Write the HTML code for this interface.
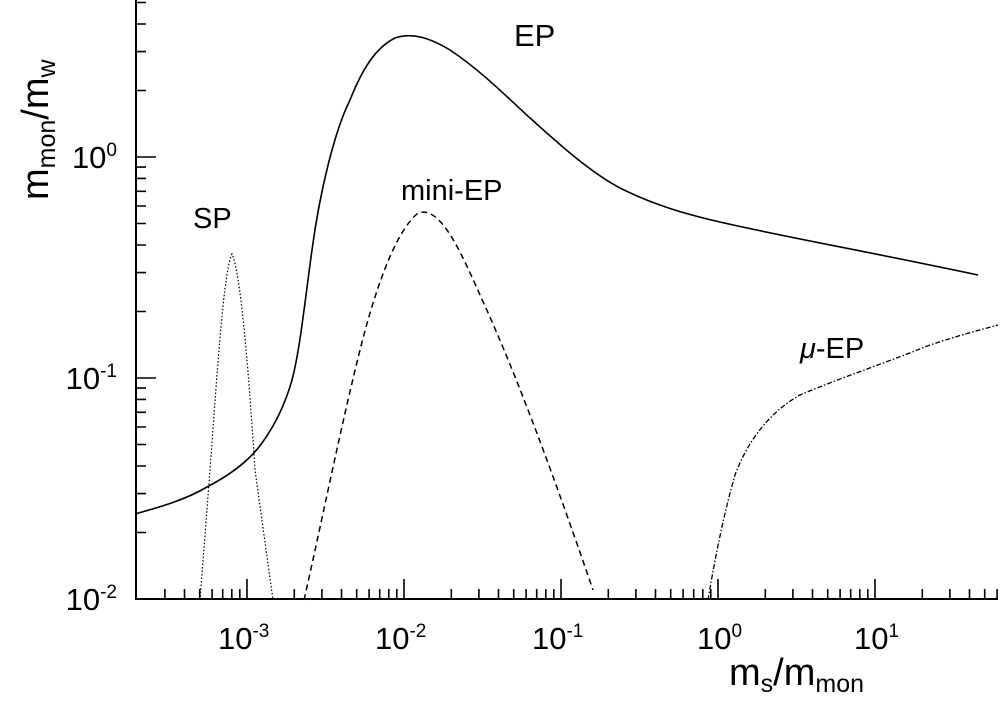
<!DOCTYPE html>
<html><head><meta charset="utf-8"><style>
html,body{margin:0;padding:0;background:#fff;}
svg{display:block;font-family:"Liberation Sans",Arial,sans-serif;}
</style></head><body>
<svg width="1000" height="704" viewBox="0 0 1000 704" xmlns="http://www.w3.org/2000/svg">
<g stroke="#000" stroke-width="2" fill="none">
<line x1="136" y1="0" x2="136" y2="600"/>
<line x1="135" y1="599" x2="998" y2="599"/>
</g>
<g stroke="#000" stroke-width="1.6" fill="none">
<path d="M247,599v-20M404,599v-20M561,599v-20M718,599v-20M875,599v-20"/>
<path d="M164.9,599v-10M184.5,599v-10M199.7,599v-10M212.1,599v-10M222.7,599v-10M231.8,599v-10M239.8,599v-10
M294.3,599v-10M321.9,599v-10M341.5,599v-10M356.7,599v-10M369.1,599v-10M379.7,599v-10M388.8,599v-10M396.8,599v-10
M451.3,599v-10M478.9,599v-10M498.5,599v-10M513.7,599v-10M526.1,599v-10M536.7,599v-10M545.8,599v-10M553.8,599v-10
M608.3,599v-10M635.9,599v-10M655.5,599v-10M670.7,599v-10M683.1,599v-10M693.7,599v-10M702.8,599v-10M710.8,599v-10
M765.3,599v-10M792.9,599v-10M812.5,599v-10M827.7,599v-10M840.1,599v-10M850.7,599v-10M859.8,599v-10M867.8,599v-10
M922.3,599v-10M949.9,599v-10M969.5,599v-10M984.7,599v-10M997.1,599v-10"/>
<path d="M136,378h20M136,157h20"/>
<path d="M136,532.5h10M136,493.6h10M136,466h10M136,444.5h10M136,427h10M136,412.3h10M136,399.4h10M136,388.1h10
M136,311.5h10M136,272.6h10M136,245h10M136,223.5h10M136,206h10M136,191.3h10M136,178.4h10M136,167.1h10
M136,90.5h10M136,51.6h10M136,24h10M136,2.5h10"/>
</g>
<g fill="none" stroke="#000">
<path stroke-width="1.6" d="M135,514 C160,507 185,500 207,487 C230,475 250,460 262,443 C275,425 285,405 292,380 C300,350 305,300 312,250 C320,190 335,130 350,100 C362,70 375,48 395,38 C412,32 430,38 450,50 C480,70 505,95 530,118 C560,145 590,172 620,188 C650,203 680,213 720,222 C780,236 860,250 978,275"/>
<path stroke-width="1.2" stroke-dasharray="1.5,2" d="M200,600 L210,470 C218,360 224,270 232,254 C240,270 248,360 255,470 L273,600"/>
<path stroke-width="1.5" stroke-dasharray="6,4" d="M304,600 C320,530 340,430 360,350 C375,290 395,232 418,213 C440,205 460,250 480,295 C510,360 545,450 593,590"/>
<path stroke-width="1.3" stroke-dasharray="5,2,1.5,2" d="M708,600 C713,570 722,520 735,475 C748,440 770,412 800,395 C840,378 880,365 930,345 C960,335 980,330 998,325"/>
</g>
<g fill="#000">
<text x="514" y="46" font-size="31">EP</text>
<text x="401" y="200" font-size="29">mini-EP</text>
<text x="193" y="228" font-size="29">SP</text>
<text x="800" y="358" font-size="29"><tspan font-style="italic">μ</tspan>-EP</text>
</g>
<g font-size="31" fill="#000" text-anchor="end">
<text x="117" y="168">10<tspan font-size="19" dy="-12">0</tspan></text>
<text x="117" y="389">10<tspan font-size="19" dy="-12">-1</tspan></text>
<text x="117" y="610">10<tspan font-size="19" dy="-12">-2</tspan></text>
</g>
<g font-size="31" fill="#000">
<text x="218" y="649">10<tspan font-size="19" dy="-12">-3</tspan></text>
<text x="375" y="649">10<tspan font-size="19" dy="-12">-2</tspan></text>
<text x="532" y="649">10<tspan font-size="19" dy="-12">-1</tspan></text>
<text x="697" y="649">10<tspan font-size="19" dy="-12">0</tspan></text>
<text x="854" y="649">10<tspan font-size="19" dy="-12">1</tspan></text>
</g>
<text x="729" y="685" font-size="38" fill="#000">m<tspan font-size="25" dy="7">s</tspan><tspan dy="-7">/m</tspan><tspan font-size="25" dy="7">mon</tspan></text>
<text transform="translate(48,200) rotate(-90)" font-size="38" fill="#000">m<tspan font-size="25" dy="7">mon</tspan><tspan dy="-7">/m</tspan><tspan font-size="25" dy="7">w</tspan></text>
</svg>
</body></html>
